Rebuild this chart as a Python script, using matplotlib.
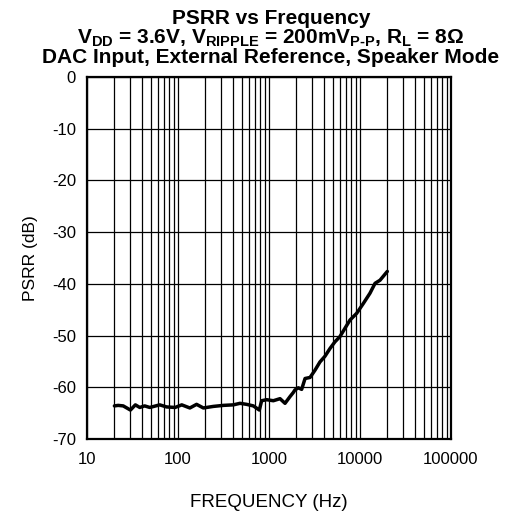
import matplotlib
matplotlib.use("Agg")
import matplotlib.pyplot as plt
from matplotlib.ticker import LogLocator, FixedLocator, NullFormatter

plt.rcParams["font.family"] = ["Liberation Sans", "DejaVu Sans"]
plt.rcParams["mathtext.fontset"] = "custom"
plt.rcParams["mathtext.rm"] = "Liberation Sans:bold"
plt.rcParams["mathtext.it"] = "Liberation Sans:bold"
plt.rcParams["mathtext.bf"] = "Liberation Sans:bold"

# curve (Hz, dB)
FREQ = [20, 22, 25, 30, 34, 38, 43, 49, 63, 75, 93, 110, 135, 160, 190,
        244, 315, 405, 480, 568, 673, 783, 830, 942, 1116, 1321, 1500,
        1702, 1850, 1930, 2100, 2285, 2490, 2825, 3200, 3630, 4120, 4680,
        5310, 6020, 6830, 7760, 9190, 10870, 12880, 14620, 16590, 19950]
PSRR = [-63.6, -63.5, -63.6, -64.4, -63.4, -63.9, -63.6, -63.9, -63.4,
        -63.8, -63.9, -63.4, -64.0, -63.3, -64.0, -63.7, -63.5, -63.4,
        -63.1, -63.3, -63.6, -64.4, -62.6, -62.4, -62.6, -62.2, -63.1,
        -61.8, -61.0, -60.5, -60.1, -60.4, -58.3, -58.1, -56.7, -55.1,
        -54.0, -52.5, -51.2, -50.2, -48.6, -47.0, -45.7, -43.8, -41.8,
        -39.9, -39.3, -37.6]

X_TICKS = [10, 100, 1000, 10000, 100000]
X_LABELS = ["10", "100", "1000", "10000", "100000"]
Y_TICKS = [0, -10, -20, -30, -40, -50, -60, -70]

TITLE = ("PSRR vs Frequency\n"
         "V$_{DD}$ = 3.6V, V$_{RIPPLE}$ = 200mV$_{P\u2010P}$, R$_L$ = 8\u03a9\n"
         "DAC Input, External Reference, Speaker Mode")

fig = plt.figure(figsize=(5.05, 5.14), dpi=100)
ax = fig.add_axes([87 / 505, 1 - 439 / 514, 364 / 505, 362 / 514])

ax.plot(FREQ, PSRR, color="black", linewidth=2.5, solid_capstyle="round",
        solid_joinstyle="round", zorder=3)

ax.set_xscale("log")
ax.set_xlim(10, 100000)
ax.set_ylim(-70, 0)
ax.xaxis.set_major_locator(FixedLocator(X_TICKS))
ax.set_xticklabels(X_LABELS)
ax.xaxis.set_minor_locator(LogLocator(base=10, subs=range(2, 10), numticks=20))
ax.xaxis.set_minor_formatter(NullFormatter())
ax.set_yticks(Y_TICKS)
ax.set_yticklabels([str(v) for v in Y_TICKS])

ax.grid(True, which="both", axis="x", color="black", linewidth=0.9)
ax.grid(True, which="major", axis="y", color="black", linewidth=0.9)
ax.tick_params(which="both", length=0, labelsize=12)
ax.tick_params(axis="x", pad=9)
ax.tick_params(axis="y", pad=8)
for sp in ax.spines.values():
    sp.set_linewidth(1.6)

ax.set_xlabel("FREQUENCY (Hz)", fontsize=13.5, labelpad=20)
ax.set_ylabel("PSRR (dB)", fontsize=12.5, labelpad=10)

fig.text(271 / 505, 1 - 63 / 514, TITLE, ha="center", va="baseline",
         fontsize=15, fontweight="bold", linespacing=0.95)

fig.savefig("out.png", dpi=100)
